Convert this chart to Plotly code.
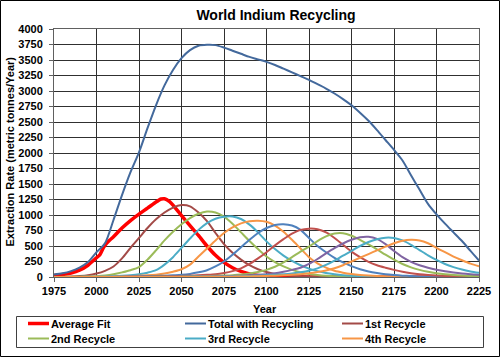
import plotly.graph_objects as go

# ---------------- data ----------------
years = list(range(1975, 2230, 5))  # 1975 ... 2225, 5-year steps

avg_years = [1975, 1980, 1985, 1990, 1995, 2000, 2002, 2004, 2006, 2008, 2010,
             2015, 2020, 2025, 2030, 2035, 2038, 2040, 2043, 2045, 2050, 2055,
             2060, 2065, 2070, 2075, 2080, 2085, 2090, 2095, 2100, 2110, 2125,
             2150, 2175, 2200, 2225]
avg_fit = [25, 40, 65, 110, 190, 310, 360, 470, 545, 600, 650,
           790, 910, 1015, 1110, 1210, 1258, 1262, 1215, 1160, 990, 830,
           670, 500, 350, 235, 150, 90, 50, 25, 12, 5, 2,
           1, 0, 0, 0]

total = [40, 60, 95, 150, 240, 400, 545, 920, 1320, 1690,
         2010, 2400, 2770, 3090, 3340, 3530, 3660, 3730, 3745, 3740,
         3700, 3650, 3600, 3550, 3510, 3470, 3420, 3360, 3300, 3240,
         3180, 3110, 3040, 2960, 2870, 2770, 2650, 2520, 2370, 2210,
         2050, 1880, 1640, 1410, 1180, 1010, 860, 720, 580, 420,
         265]

recycle_1 = [2, 4, 8, 15, 28, 55, 100, 170, 300, 470,
             630, 790, 930, 1040, 1120, 1160, 1140, 1040, 900, 710,
             530, 390, 280, 190, 125, 80, 50, 32, 20, 13,
             9, 6, 4, 3, 2, 2, 2, 1, 1, 1,
             1, 1, 1, 1, 1, 1, 1, 1, 1, 1,
             1]
recycle_2 = [1, 2, 3, 5, 8, 14, 25, 45, 75, 110,
             160, 280, 430, 590, 730, 850, 950, 1020, 1055, 1040,
             975, 860, 720, 580, 450, 330, 240, 170, 115, 75,
             50, 32, 20, 13, 9, 6, 4, 3, 2, 2,
             2, 2, 1, 1, 1, 1, 1, 1, 1, 1,
             1]
recycle_3 = [0, 1, 1, 2, 3, 5, 8, 13, 20, 30,
             45, 70, 110, 200, 320, 470, 620, 760, 870, 940,
             972, 975, 935, 845, 720, 575, 450, 345, 260, 190,
             135, 95, 65, 45, 30, 20, 14, 10, 7, 5,
             4, 3, 2, 2, 2, 2, 1, 1, 1, 1,
             1]
recycle_4 = [0, 0, 1, 1, 2, 3, 4, 6, 9, 13,
             19, 27, 38, 55, 85, 125, 200, 330, 460, 590,
             710, 800, 865, 900, 908, 890, 830, 730, 600, 460,
             320, 220, 150, 100, 70, 48, 33, 23, 16, 11,
             8, 6, 4, 3, 2, 2, 1, 1, 1, 1,
             1]
recycle_5 = [0, 0, 0, 1, 1, 1, 2, 3, 5, 7,
             10, 14, 18, 22, 28, 35, 50, 75, 110, 170,
             250, 360, 480, 600, 710, 790, 840, 852, 830, 760,
             630, 500, 400, 310, 235, 175, 125, 90, 65, 45,
             32, 22, 15, 10, 7, 5, 4, 3, 2, 2,
             1]
recycle_6 = [0, 0, 0, 0, 0, 1, 1, 1, 2, 3,
             4, 6, 8, 11, 14, 18, 22, 28, 35, 45,
             65, 95, 140, 210, 300, 400, 510, 610, 700, 760,
             780, 770, 720, 630, 520, 410, 320, 245, 190, 150,
             115, 85, 62, 45, 33, 24, 17, 12, 9, 6,
             5]
recycle_7 = [0, 0, 0, 0, 0, 0, 0, 1, 1, 1,
             2, 2, 3, 4, 5, 7, 9, 12, 15, 19,
             24, 30, 40, 55, 80, 115, 165, 235, 320, 410,
             490, 580, 655, 700, 705, 665, 600, 525, 445, 360,
             280, 210, 155, 115, 85, 62, 45, 33, 24, 17,
             12]
recycle_8 = [0, 0, 0, 0, 0, 0, 0, 0, 0, 1,
             1, 1, 2, 2, 3, 4, 5, 7, 9, 11,
             14, 18, 22, 28, 35, 45, 60, 85, 115, 150,
             210, 290, 380, 465, 540, 600, 640, 648, 615, 530,
             420, 320, 245, 190, 150, 118, 92, 72, 56, 45,
             37]
recycle_9 = [0, 0, 0, 0, 0, 0, 0, 0, 0, 0,
             0, 0, 1, 1, 2, 2, 3, 4, 5, 6,
             8, 10, 13, 17, 22, 28, 35, 45, 58, 75,
             100, 140, 195, 265, 345, 420, 500, 565, 610, 635,
             630, 590, 520, 435, 350, 275, 210, 160, 120, 90,
             68]
recycle_10 = [0, 0, 0, 0, 0, 0, 0, 0, 0, 0,
              0, 0, 0, 0, 1, 1, 2, 2, 3, 4,
              5, 6, 8, 10, 13, 17, 22, 28, 36, 46,
              60, 80, 105, 140, 190, 250, 310, 370, 430, 490,
              545, 585, 600, 590, 545, 470, 400, 330, 270, 215,
              172]

recycle_names = ["1st Recycle", "2nd Recycle", "3rd Recycle", "4th Recycle",
                 "5th Recycle", "6th Recycle", "7th Recycle", "8th Recycle",
                 "9th Recycle", "10th Recycle"]
recycle_values = [recycle_1, recycle_2, recycle_3, recycle_4, recycle_5,
                  recycle_6, recycle_7, recycle_8, recycle_9, recycle_10]
recycle_colors = ["#A34A47", "#9BBB59", "#4BACC6", "#F79646", "#4F81BD",
                  "#C0504D", "#9BBB59", "#8064A2", "#4BACC6", "#F79646"]
AVG_COLOR = "#FF0000"
TOTAL_COLOR = "#43699C"

x_ticks = [1975, 2000, 2025, 2050, 2075, 2100, 2125, 2150, 2175, 2200, 2225]

# legend entries shown in the reference (row-major, 3 columns)
legend_labels = ["Average Fit", "Total with Recycling", "1st Recycle",
                 "2nd Recycle", "3rd Recycle", "4th Recycle"]
legend_colors = [AVG_COLOR, TOTAL_COLOR] + recycle_colors[:4]
legend_widths = [3.5, 2, 2, 2, 2, 2]

# ---------------- figure ----------------
FONT = "Liberation Sans, Arial, sans-serif"
W, H = 500, 357
ML, MR, MT, MB = 54, 21, 29, 80
PW, PH = W - ML - MR, H - MT - MB


def px_x(x):
    return (x - ML) / PW


def px_y(y):
    return (H - MB - y) / PH


fig = go.Figure()

fig.add_trace(go.Scatter(x=avg_years, y=avg_fit, name="Average Fit", mode="lines",
                         line=dict(color=AVG_COLOR, width=3.5, shape="spline", smoothing=0.6)))
fig.add_trace(go.Scatter(x=years, y=total, name="Total with Recycling", mode="lines",
                         line=dict(color=TOTAL_COLOR, width=2, shape="spline", smoothing=0.8)))
for nm, vals, col in zip(recycle_names, recycle_values, recycle_colors):
    fig.add_trace(go.Scatter(x=years, y=vals, name=nm, mode="lines",
                             line=dict(color=col, width=2, shape="spline", smoothing=0.8)))

axis_common = dict(
    showgrid=True, gridcolor="#303030", gridwidth=1,
    showline=True, linecolor="#606060", linewidth=1, mirror=True,
    ticks="outside", ticklen=4, tickcolor="#606060",
    tickfont=dict(family=FONT, size=11, color="black", weight="bold"),
    zeroline=False, ticklabeloverflow="allow",
)

bold11 = dict(family=FONT, size=11, color="black", weight="bold")

annotations = [
    dict(text="Extraction Rate (metric tonnes/Year)", textangle=-90,
         xref="paper", yref="paper", x=px_x(9), y=px_y(151.5),
         xanchor="center", yanchor="middle", showarrow=False, font=bold11),
    dict(text="Year", xref="paper", yref="paper", x=px_x(265), y=px_y(309),
         xanchor="center", yanchor="middle", showarrow=False, font=bold11),
]
shapes = [
    # outer chart border
    dict(type="rect", xref="paper", yref="paper",
         x0=px_x(0.5), x1=px_x(W - 0.5), y0=px_y(H - 0.5), y1=px_y(0.5),
         line=dict(color="black", width=1), fillcolor="rgba(0,0,0,0)", layer="above"),
    # legend box
    dict(type="rect", xref="paper", yref="paper",
         x0=px_x(16.5), x1=px_x(483.5), y0=px_y(347.5), y1=px_y(316.5),
         line=dict(color="#404040", width=1), fillcolor="white", layer="above"),
]
col_x = [28, 185, 342]
row_y = [323.5, 338.5]
for k, (lab, col, lw) in enumerate(zip(legend_labels, legend_colors, legend_widths)):
    cx = col_x[k % 3]
    ry = row_y[k // 3]
    shapes.append(dict(type="line", xref="paper", yref="paper",
                       x0=px_x(cx), x1=px_x(cx + 21), y0=px_y(ry), y1=px_y(ry),
                       line=dict(color=col, width=lw), layer="above"))
    annotations.append(dict(text=lab, xref="paper", yref="paper",
                            x=px_x(cx + 21), y=px_y(ry), xanchor="left", yanchor="middle",
                            showarrow=False, font=bold11))

fig.update_layout(
    width=W, height=H,
    margin=dict(l=ML, r=MR, t=MT, b=MB, autoexpand=False),
    paper_bgcolor="white", plot_bgcolor="white",
    title=dict(text="World Indium Recycling", x=276 / W, xanchor="center",
               y=1 - 15 / H, yanchor="middle",
               font=dict(family=FONT, size=14, color="black", weight="bold")),
    xaxis=dict(range=[1975, 2225], tickvals=x_ticks, **axis_common),
    yaxis=dict(range=[0, 4000], tick0=0, dtick=250, ticklabelstandoff=4, **axis_common),
    showlegend=False,
    annotations=annotations,
    shapes=shapes,
)

fig.write_html("out.html",
               config={"displayModeBar": False},
               post_script="document.body.style.margin='0';document.body.style.padding='0';")
